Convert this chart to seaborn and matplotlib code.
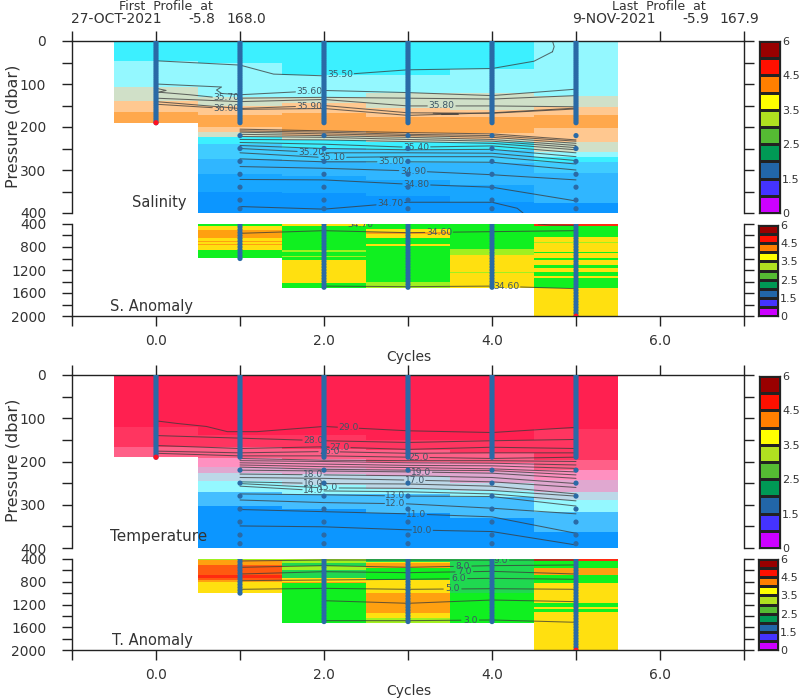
import numpy as np
import matplotlib
matplotlib.use("Agg")
import matplotlib.pyplot as plt
from matplotlib.colors import ListedColormap
import seaborn as sns

W, H = 800, 700

CYCLES = [0, 1, 2, 3, 4, 5]
TICK_X = [-1, 0, 1, 2, 3, 4, 5, 6, 7]
TICK_X_LABELS = ["", "0.0", "", "2.0", "", "4.0", "", "6.0", ""]

# colour bands used in the shaded sections
BAND_COLORS = {
    "cy": "#3CF0FF", "lc": "#94F8FF", "sg": "#D0E0C8", "lo": "#FFC890", "or": "#FFA84C",
    "md": "#40CCFF", "bl": "#30B6FF", "sk": "#18A6FF", "dp": "#0C96FF", "tm": "#44BEFF",
    "r1": "#FF2050", "r2": "#FF3560", "r3": "#FF6088", "pk": "#FF90C0",
    "lv": "#E0A8D0", "pl": "#BCD8E8",
    "ye": "#FFE010", "gr": "#10F020", "ao": "#FFA010", "ar": "#FF2A10", "g2": "#20D850",
    "li": "#A0F020", "o2": "#FF5A10",
}
BAND_NAMES = list(BAND_COLORS)

# base pressure of each band, one row per cycle
SAL_BASES = [
    [46, 108, 140, 165, 190],
    [51, 130, 153, 172, 200, 212, 224, 240, 275, 310, 350, 400],
    [81, 131, 145, 168, 211, 223, 230, 249, 280, 315, 355, 400],
    [81, 123, 156, 176, 215, 224, 235, 254, 284, 325, 360, 400],
    [65, 123, 160, 176, 215, 228, 235, 254, 284, 335, 375, 400],
    [128, 154, 172, 203, 237, 258, 270, 282, 307, 377, 400],
]
SAL_BANDS = [
    "cy lc sg lo or",
    "cy lc sg lo or lo sg cy md bl sk dp",
    "cy lc sg lo or lo sg cy md bl sk dp",
    "cy lc sg lo or lo sg cy md bl sk dp",
    "cy lc sg lo or lo sg cy md bl sk dp",
    "lc sg lo or lo sg lc cy md bl dp",
]
SANOM_BASES = [
    [],
    [430, 510, 650, 690, 710, 750, 770, 860, 990],
    [430, 860, 880, 950, 970, 1030, 1430, 1510],
    [490, 540, 570, 650, 740, 780, 1400, 1510],
    [840, 940, 1240, 1260, 1510],
    [430, 620, 710, 730, 880, 910, 1000, 1030, 1110, 1170, 1240, 1300, 1345, 1520, 2000],
]
SANOM_BANDS = [
    "",
    "gr ye ao ye ao ye ao ye gr",
    "ye gr li gr li gr ye gr",
    "gr ye ao ye gr ye gr li",
    "gr li ye li ye",
    "ar gr ye li ye gr ye gr ye gr ye gr ye gr ye",
]
TEMP_BASES = [
    [120, 166, 190],
    [139, 166, 192, 212, 227, 247, 270, 303, 400],
    [139, 170, 195, 215, 230, 255, 277, 310, 400],
    [150, 175, 200, 220, 235, 265, 275, 320, 400],
    [150, 180, 205, 225, 250, 268, 282, 330, 400],
    [127, 197, 220, 243, 270, 289, 316, 362, 400],
]
TEMP_BANDS = [
    "r1 r2 r3",
    "r1 r2 r3 pk lv pl lc tm dp",
    "r1 r2 r3 pk lv pl lc tm dp",
    "r1 r2 r3 pk lv pl lc tm dp",
    "r1 r2 r3 pk lv pl lc tm dp",
    "r1 r2 r3 pk lv pl lc tm dp",
]
TANOM_BASES = [
    [],
    [418, 505, 593, 681, 740, 769, 798, 992],
    [465, 523, 593, 740, 800, 828, 1520],
    [447, 476, 564, 769, 1003, 1355, 1443, 1520],
    [1003, 1520],
    [430, 564, 681, 828, 1180, 1240, 1285, 1325, 2000],
]
TANOM_BANDS = [
    "",
    "li ao o2 o2 ar o2 ao ye",
    "li g2 li g2 ye ao gr",
    "g2 ye ao gr ye ao ye li",
    "g2 gr",
    "ar gr ao gr ye gr ye gr ye",
]

# sample pressures
SHALLOW_P = [0, 5, 10, 15, 20, 25, 30, 35, 40, 45, 50, 55, 60, 65, 70, 75, 80, 85, 90, 95, 100, 105, 110,
             115, 120, 125, 130, 135, 140, 145, 150, 155, 160, 165, 170, 175, 180, 185, 190]
DEEP_P = [220, 250, 280, 310, 340, 370, 390]
ANOM_P = [400, 450, 500, 550, 600, 650, 700, 750, 800, 850, 900, 950, 1000, 1050, 1100, 1150, 1200,
          1250, 1300, 1350, 1400, 1450, 1500, 1550, 1600, 1650, 1700, 1750, 1800, 1850, 1900, 1950, 2000]
ANOM_LAST = [0, 1000, 1500, 1500, 1500, 2000]

# salinity contours, upper layer
SAL_50_X = [0, 1, 1.4, 2, 3, 4, 4.5, 4.72]
SAL_50_P = [46, 56, 77, 81, 67, 64, 47, 25]
SAL_60_X = [0.78, 1, 2, 3, 4, 5]
SAL_60_P = [122, 125, 115, 120, 127, 112]
SAL_70_X = [0.03, 0.4, 0.7, 1, 2, 3, 4, 5]
SAL_70_P = [119, 125, 131, 133, 131, 133, 135, 127]
SAL_80_P = [133, 141, 136, 151, 151, 153]
SAL_90_P = [141, 157, 150, 167, 168, 158]
SAL_00_P = [147, 159, 157, 173, 167, 156]
# small folds in the contours
FOLD_X = [[0, 0.78, 0.72, 0.78], [0, 0.12, 0.03], [0.97, 1.02, 0.97, 1.03], [4.72, 4.74, 4.72], [3.3, 3.6, 3.4]]
FOLD_P = [[100, 107, 114, 122], [110, 115, 119], [127, 131, 134, 137], [25, 13, 0], [168, 170, 171]]

# salinity contours below the gap, columns are cycles 1 to 5
SAL_LOWER_LABELS = ["", "", "", "", "", "", "35.40", "", "35.20", "35.10", "35.00", "34.90", "34.80"]
SAL_LOWER_POS = [0, 0, 0, 0, 0, 0, 3.1, 0, 1.85, 2.1, 2.8, 3.06, 3.1]
SAL_LOWER_C1 = [205, 209, 212, 217, 222, 229, 236, 243, 250, 260, 274, 292, 322]
SAL_LOWER_C2 = [209, 212, 216, 220, 224, 230, 240, 250, 260, 271, 281, 296, 323]
SAL_LOWER_C3 = [213, 217, 220, 224, 229, 234, 247, 253, 260, 269, 281, 302, 333]
SAL_LOWER_C4 = [216, 220, 224, 229, 233, 238, 244, 252, 261, 269, 282, 311, 340]
SAL_LOWER_C5 = [230, 233, 238, 243, 248, 253, 260, 269, 278, 286, 300, 323, 372]
SAL_34_7_X = [1, 2, 3, 4, 4.3, 4.37]
SAL_34_7_P = [385, 391, 375, 375, 389, 400]

# temperature contours, columns are cycles
TEMP_29_X = [0, 0.25, 0.6, 0.85, 1.2, 2, 3, 4, 5]
TEMP_29_P = [106, 112, 119, 131, 131, 119, 129, 133, 121]
TEMP_UPPER_LABELS = ["28.0", "27.0", "26.0", "25.0"]
TEMP_UPPER_POS = [1.87, 2.19, 2.06, 3.13]
TEMP_UPPER_P = [
    [140, 146, 152, 156, 152, 149],
    [163, 170, 166, 172, 167, 170],
    [176, 180, 177, 181, 180, 180],
    [181, 187, 187, 190, 193, 190],
]
TEMP_LOWER_LABELS = ["", "", "", "", "", "19.0", "18.0", "17.0", "16.0", "15.0", "14.0", "13.0", "12.0", "11.0", "10.0"]
TEMP_LOWER_POS = [0, 0, 0, 0, 0, 3.16, 1.87, 3.08, 1.87, 2.05, 1.87, 2.85, 2.85, 3.1, 3.17]
TEMP_LOWER_P = [
    [193, 197, 198, 198, 200],
    [198, 200, 203, 204, 208],
    [203, 206, 209, 210, 216],
    [208, 212, 214, 217, 224],
    [213, 218, 220, 221, 231],
    [220, 222, 224, 227, 239],
    [229, 231, 233, 237, 251],
    [237, 239, 243, 247, 260],
    [247, 251, 252, 257, 275],
    [251, 261, 262, 267, 280],
    [257, 268, 270, 275, 291],
    [275, 277, 280, 281, 303],
    [289, 295, 298, 308, 321],
    [311, 316, 321, 328, 366],
    [349, 351, 358, 362, 393],
]

# deep contours
SANOM_UPPER_P = [562, 516, 551, 533, 516]
SANOM_TOP_X = [4.55, 4.7, 5]
SANOM_TOP_P = [400, 418, 424]
SANOM_LOWER_P = [1480, 1490, 1480, 1525]
TANOM_UPPER_LABELS = ["9.0", "8.0", "7.0", "6.0", "5.0"]
TANOM_UPPER_POS = [4.1, 3.65, 3.67, 3.6, 3.53]
TANOM_UPPER_P = [
    [435, 418, 418, 420, 418],
    [546, 517, 546, 517, 505],
    [664, 623, 640, 617, 664],
    [781, 769, 757, 740, 757],
    [933, 916, 933, 922, 933],
]
TANOM_4_P = [1133, 1179, 1121, 1150]
TANOM_3_P = [1484, 1484, 1472, 1513]

# colour key
KEY_COLORS = ["#990000", "#FF1000", "#FF7F00", "#FFFF00", "#B0E020",
              "#55BB33", "#009955", "#2266A8", "#4433FF", "#CC00FF"]
KEY_LABELS = ["6", "4.5", "3.5", "2.5", "1.5", "0"]

LINE_COLOR = "#3A3A3A"
DOT_COLOR = "#2A6AA6"
LABEL_COLOR = "#3E5564"
INK = "#333333"

sns.set_theme(style="ticks")
plt.rcParams["font.family"] = ["DejaVu Sans"]
plt.rcParams["text.color"] = INK
plt.rcParams["xtick.labelcolor"] = INK
plt.rcParams["ytick.labelcolor"] = INK

fig = plt.figure(figsize=(W / 100, H / 100), dpi=100)


def px_axes(x0, y0, x1, y1, **kw):
    return fig.add_axes([x0 / W, 1 - y1 / H, (x1 - x0) / W, (y1 - y0) / H], **kw)


def px_text(x, y, text, ha="center", size=10, **kw):
    fig.text(x / W, 1 - y / H, text, ha=ha, va="center", fontsize=size, **kw)


def draw_section(y0, y1, bases, bands, top, bottom, step):
    """Shaded section, one column per cycle."""
    centres = list(range(top + step // 2, bottom, step))
    grid = np.full((len(centres), len(bases)), np.nan)
    for col, (col_bases, col_bands) in enumerate(zip(bases, bands)):
        prev = top
        for base, name in zip(col_bases, col_bands.split()):
            for row, p in enumerate(centres):
                if prev <= p < base:
                    grid[row, col] = BAND_NAMES.index(name)
            prev = base
    ax = px_axes(114, y0, 618, y1)
    sns.heatmap(grid, cmap=ListedColormap(list(BAND_COLORS.values())), vmin=-0.5,
                vmax=len(BAND_NAMES) - 0.5, cbar=False, xticklabels=False, yticklabels=False, ax=ax)
    ax.axis("off")


def draw_line(ax, xs, ps):
    sns.lineplot(x=xs, y=ps, sort=False, estimator=None, color=LINE_COLOR, linewidth=0.75, alpha=0.75, ax=ax)


def draw_contour(ax, xs, ps, text="", pos=0.0, gap=0.17, size=6.6):
    if not text:
        draw_line(ax, xs, ps)
        return
    xs = np.array(xs, dtype=float)
    ps = np.array(ps, dtype=float)
    left = xs < pos - gap
    right = xs > pos + gap
    left_x = list(xs[left]) + [pos - gap]
    left_p = list(ps[left]) + [np.interp(pos - gap, xs, ps)]
    right_x = [pos + gap] + list(xs[right])
    right_p = [np.interp(pos + gap, xs, ps)] + list(ps[right])
    if len(left_x) > 1:
        draw_line(ax, left_x, left_p)
    if len(right_x) > 1:
        draw_line(ax, right_x, right_p)
    ax.text(pos, np.interp(pos, xs, ps), text, ha="center", va="center", fontsize=size,
            color=LABEL_COLOR, clip_on=True)


def style_frame(ax, ymin, ymax, major, labelled, top_side):
    ax.patch.set_visible(False)
    ax.set_xlim(-1, 7)
    ax.set_ylim(ymax, ymin)
    ax.set_xlabel("")
    ax.set_ylabel("")
    for name, spine in ax.spines.items():
        spine.set_visible(name in ("left", "right") or name == ("top" if top_side else "bottom"))
        spine.set_color("#222222")
        spine.set_linewidth(1.0)
    ax.set_xticks(TICK_X)
    ax.set_xticklabels([] if top_side else TICK_X_LABELS, fontsize=10)
    ticks = list(range(ymin, ymax + 1, major))
    ax.set_yticks(ticks)
    ax.set_yticklabels([str(t) if t in labelled else "" for t in ticks], fontsize=10)
    ax.tick_params(axis="x", top=top_side, bottom=not top_side, labeltop=False,
                   labelbottom=not top_side, direction="out", length=7, width=1, pad=6, color="#222222")
    ax.tick_params(axis="y", left=True, right=True, labelright=False, direction="out",
                   length=7, width=1, pad=11.5, color="#222222")


def draw_key(x0, y0, x1, y1, size):
    ax = px_axes(x0, y0, x1, y1)
    sns.heatmap(np.arange(len(KEY_COLORS)).reshape(-1, 1), cmap=ListedColormap(KEY_COLORS), cbar=False,
                linewidths=0.9, linecolor="#222222", xticklabels=False, ax=ax)
    for spine in ax.spines.values():
        spine.set_visible(True)
        spine.set_color("#222222")
        spine.set_linewidth(0.9)
    ax.set_yticks([0, 2, 4, 6, 8, 10])
    ax.set_yticklabels(KEY_LABELS, rotation=0, fontsize=size)
    ax.tick_params(axis="y", left=False, right=False, labelleft=False, labelright=True, length=0, pad=1.5)
    ax.set_xlabel("")
    ax.set_ylabel("")


def draw_upper_dots(ax):
    for cycle in CYCLES:
        sns.scatterplot(x=[cycle] * len(SHALLOW_P), y=SHALLOW_P, color=DOT_COLOR, s=14, edgecolor="none", ax=ax, zorder=4)
        if cycle > 0:
            sns.scatterplot(x=[cycle] * len(DEEP_P), y=DEEP_P, color=DOT_COLOR, s=14, edgecolor="none", ax=ax, zorder=4)
    sns.scatterplot(x=[0], y=[SHALLOW_P[-1]], color="#FF1020", s=14, edgecolor="none", ax=ax, zorder=5)


def draw_deep_dots(ax):
    for cycle, last in zip(CYCLES, ANOM_LAST):
        if last == 0:
            continue
        depths = [p for p in ANOM_P if p <= last]
        sns.scatterplot(x=[cycle] * len(depths), y=depths, color=DOT_COLOR, s=14, edgecolor="none", ax=ax, zorder=4)
    sns.scatterplot(x=[5], y=[ANOM_P[-1]], color="#FF1020", s=12, edgecolor="none", ax=ax, zorder=5, clip_on=True)


# Salinity
draw_section(41, 213, SAL_BASES, SAL_BANDS, 0, 400, 2)
ax1 = px_axes(72, 41, 744, 213)
draw_contour(ax1, SAL_50_X, SAL_50_P, "35.50", 2.19)
draw_contour(ax1, SAL_60_X, SAL_60_P, "35.60", 1.83)
draw_contour(ax1, SAL_70_X, SAL_70_P, "35.70", 0.84)
draw_contour(ax1, CYCLES, SAL_80_P, "35.80", 3.4)
draw_contour(ax1, CYCLES, SAL_90_P, "35.90", 1.83)
draw_contour(ax1, CYCLES, SAL_00_P, "36.00", 0.84)
for fold_x, fold_p in zip(FOLD_X, FOLD_P):
    draw_contour(ax1, fold_x, fold_p)
lower_rows = zip(SAL_LOWER_C1, SAL_LOWER_C2, SAL_LOWER_C3, SAL_LOWER_C4, SAL_LOWER_C5)
for row, text, pos in zip(lower_rows, SAL_LOWER_LABELS, SAL_LOWER_POS):
    draw_contour(ax1, CYCLES[1:], list(row), text, pos)
draw_contour(ax1, SAL_34_7_X, SAL_34_7_P, "34.70", 2.79)
draw_upper_dots(ax1)
style_frame(ax1, 0, 400, 50, [0, 100, 200, 300, 400], True)

# Salinity deep part
draw_section(224, 316, SANOM_BASES, SANOM_BANDS, 400, 2000, 5)
ax2 = px_axes(72, 224, 744, 316)
draw_contour(ax2, CYCLES[1:], SANOM_UPPER_P, "34.60", 3.37)
draw_contour(ax2, SANOM_TOP_X, SANOM_TOP_P)
draw_contour(ax2, CYCLES[2:], SANOM_LOWER_P, "34.60", 4.17)
ax2.text(2.43, 405, "34.70", ha="center", va="center", fontsize=6.6, color=LABEL_COLOR, clip_on=True)
draw_deep_dots(ax2)
style_frame(ax2, 400, 2000, 200, [400, 800, 1200, 1600, 2000], False)

# Temperature
draw_section(375, 548, TEMP_BASES, TEMP_BANDS, 0, 400, 2)
ax3 = px_axes(72, 375, 744, 548)
draw_contour(ax3, TEMP_29_X, TEMP_29_P, "29.0", 2.29, gap=0.13)
for row, text, pos in zip(TEMP_UPPER_P, TEMP_UPPER_LABELS, TEMP_UPPER_POS):
    draw_contour(ax3, CYCLES, row, text, pos, gap=0.13)
for row, text, pos in zip(TEMP_LOWER_P, TEMP_LOWER_LABELS, TEMP_LOWER_POS):
    draw_contour(ax3, CYCLES[1:], row, text, pos, gap=0.13)
draw_upper_dots(ax3)
style_frame(ax3, 0, 400, 50, [0, 100, 200, 300, 400], True)

# Temperature deep part
draw_section(559, 650, TANOM_BASES, TANOM_BANDS, 400, 2000, 5)
ax4 = px_axes(72, 559, 744, 650)
for row, text, pos in zip(TANOM_UPPER_P, TANOM_UPPER_LABELS, TANOM_UPPER_POS):
    draw_contour(ax4, CYCLES[1:], row, text, pos, gap=0.11)
draw_contour(ax4, CYCLES[2:], TANOM_4_P)
draw_contour(ax4, CYCLES[2:], TANOM_3_P, "3.0", 3.74, gap=0.11)
draw_deep_dots(ax4)
style_frame(ax4, 400, 2000, 200, [400, 800, 1200, 1600, 2000], False)

draw_key(759, 41, 780, 213, 8)
draw_key(758, 225, 778, 316, 8)
draw_key(759, 376, 780, 548, 8)
draw_key(758, 559, 778, 650, 8)

px_text(166, 6, "First  Profile  at", size=9)
px_text(71, 19, "27-OCT-2021", ha="left")
px_text(188, 19, "-5.8", ha="left")
px_text(226, 19, "168.0", ha="left")
px_text(659, 6, "Last  Profile  at", size=9)
px_text(572, 19, "9-NOV-2021", ha="left")
px_text(682, 19, "-5.9", ha="left")
px_text(719, 19, "167.9", ha="left")

px_text(13, 126, "Pressure (dbar)", rotation=90, size=11.5)
px_text(13, 460, "Pressure (dbar)", rotation=90, size=11.5)
px_text(159, 202, "Salinity", size=10.5)
px_text(152, 306, "S. Anomaly", size=10.5)
px_text(159, 536, "Temperature", size=11)
px_text(152, 640, "T. Anomaly", size=10.5)
px_text(409, 357, "Cycles")
px_text(409, 691, "Cycles")

fig.savefig("out.png", dpi=100)
